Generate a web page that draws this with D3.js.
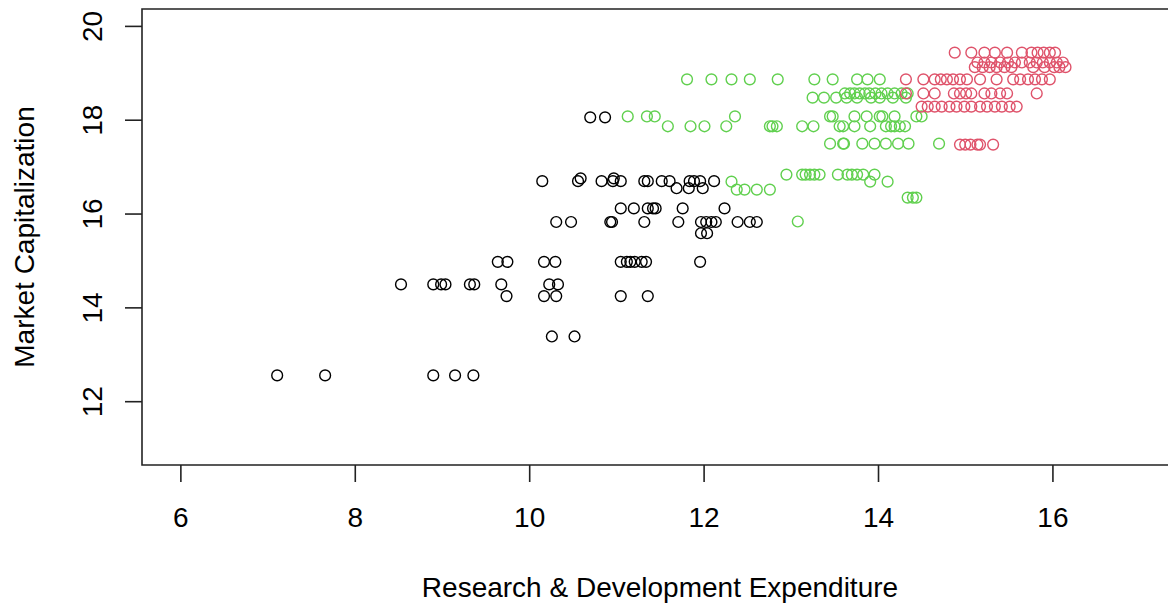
<!DOCTYPE html>
<html>
<head>
<meta charset="utf-8">
<script src="https://cdn.jsdelivr.net/npm/d3@7"></script>
<style>
  body { margin: 0; background: #fff; overflow: hidden; }
  svg { display: block; font-family: "Liberation Sans", Arial, sans-serif; }
</style>
</head>
<body>
<svg id="chart"></svg>
<script>
/* data: market cap levels and the R&D values sitting on each level */

const xTicks = [6, 8, 10, 12, 14, 16];
const yTicks = [12, 14, 16, 18, 20];

// black group
const blackLevels = [12.55, 13.38, 14.24, 14.49, 14.97, 15.58, 15.82, 16.11, 16.54, 16.69, 16.75, 18.05];
const blackRD = [
  [7.11, 7.66, 8.90, 9.15, 9.36],
  [10.26, 10.52],
  [9.74, 10.17, 10.31, 11.05, 11.36],
  [8.53, 8.90, 8.99, 9.04, 9.32, 9.37, 9.68, 10.23, 10.33],
  [9.64, 9.75, 10.17, 10.30, 11.05, 11.12, 11.16, 11.21, 11.29, 11.34, 11.96],
  [11.97, 12.04],
  [10.31, 10.48, 10.93, 10.95, 11.32, 11.71, 11.97, 12.03, 12.09, 12.14, 12.39, 12.53, 12.61],
  [11.05, 11.20, 11.36, 11.42, 11.45, 11.76, 12.24],
  [11.69, 11.83, 11.99],
  [10.15, 10.56, 10.83, 10.96, 11.05, 11.32, 11.36, 11.52, 11.61, 11.84, 11.89, 11.96, 12.12],
  [10.59, 10.97],
  [10.70, 10.87]
];

// green group
const greenLevels = [15.83, 16.34, 16.51, 16.68, 16.83, 17.49, 17.86, 18.07, 18.47, 18.56, 18.86];
const greenRD = [
  [13.08],
  [14.34, 14.40, 14.44],
  [12.38, 12.47, 12.61, 12.76],
  [12.32, 13.91, 14.11],
  [12.95, 13.13, 13.17, 13.22, 13.27, 13.33, 13.54, 13.65, 13.70, 13.76, 13.83, 13.96],
  [13.45, 13.60, 13.61, 13.82, 13.96, 14.09, 14.23, 14.35, 14.70],
  [11.59, 11.85, 12.01, 12.26, 12.76, 12.79, 12.84, 13.13, 13.26, 13.56, 13.60, 13.73, 13.91, 14.09, 14.15, 14.19, 14.25, 14.31],
  [11.13, 11.35, 11.44, 12.36, 13.45, 13.48, 13.73, 13.87, 14.02, 14.05, 14.19, 14.44, 14.50],
  [13.25, 13.38, 13.52, 13.64, 13.76, 13.92, 14.02, 14.17, 14.32],
  [13.62, 13.68, 13.73, 13.79, 13.85, 13.90, 13.97, 14.04, 14.11, 14.19, 14.27, 14.34],
  [11.81, 12.09, 12.32, 12.53, 12.85, 13.27, 13.48, 13.76, 13.88, 14.02]
];

// red group
const redLevels = [17.47, 18.28, 18.56, 18.86, 19.12, 19.22, 19.43];
const redRD = [
  [14.94, 15.00, 15.06, 15.14, 15.17, 15.32],
  [14.50, 14.57, 14.65, 14.73, 14.82, 14.90, 14.99, 15.07, 15.17, 15.25, 15.34, 15.42, 15.51, 15.59],
  [14.32, 14.52, 14.65, 14.87, 14.94, 15.01, 15.07, 15.22, 15.30, 15.40, 15.48, 15.82],
  [14.32, 14.52, 14.65, 14.72, 14.79, 14.86, 14.94, 15.02, 15.17, 15.36, 15.55, 15.63, 15.72, 15.80, 15.88, 15.97],
  [15.11, 15.20, 15.28, 15.36, 15.45, 15.53, 15.78, 15.91, 16.02, 16.08, 16.15],
  [15.14, 15.22, 15.30, 15.40, 15.49, 15.57, 15.65, 15.74, 15.82, 15.89, 15.97, 16.05, 16.12],
  [14.88, 15.07, 15.22, 15.34, 15.48, 15.65, 15.76, 15.83, 15.90, 15.97, 16.03]
];

const groupColors = ["#000000", "#61D04F", "#DF536B"];

/* layout */

const width = 1168, height = 605;
const plot = { left: 142, right: 1178, top: 9, bottom: 465 };

// R style limits: xlim 6..17, ylim 11..20, padded 4% each side
function pad(lo, hi) {
  let d = (hi - lo) * 0.04;
  return [lo - d, hi + d];
}

let x = d3.scaleLinear().domain(pad(6, 17)).range([plot.left, plot.right]);
let y = d3.scaleLinear().domain(pad(11, 20)).range([plot.bottom, plot.top]);

function toPoints(levels, rd, group) {
  let pts = [];
  levels.forEach((lv, i) => {
    rd[i].forEach(v => pts.push({ rd: v, mc: lv, group: group }));
  });
  return pts;
}

let points = []
  .concat(toPoints(blackLevels, blackRD, 0))
  .concat(toPoints(greenLevels, greenRD, 1))
  .concat(toPoints(redLevels, redRD, 2));

let svg = d3.select("#chart")
  .attr("width", width)
  .attr("height", height);

/* points */

svg.append("g")
  .attr("class", "points")
  .selectAll("circle")
  .data(points)
  .enter().append("circle")
  .attr("cx", d => x(d.rd))
  .attr("cy", d => y(d.mc))
  .attr("r", 5.4)
  .attr("fill", "none")
  .attr("stroke", d => groupColors[d.group])
  .attr("stroke-width", 1.4);

/* box (right side runs off the page) + axes */

svg.append("path")
  .attr("d", "M" + (plot.right + 20) + "," + plot.top +
             "H" + plot.left + "V" + plot.bottom + "H" + (plot.right + 20))
  .attr("fill", "none")
  .attr("stroke", "#222")
  .attr("stroke-width", 1.6);

let xAxis = svg.append("g")
  .attr("transform", "translate(0," + plot.bottom + ")")
  .call(d3.axisBottom(x).tickValues(xTicks).tickSize(17).tickPadding(0).tickFormat(d3.format("d")));

xAxis.select(".domain").remove();
xAxis.selectAll("line").attr("stroke", "#222").attr("stroke-width", 1.6);
xAxis.selectAll("text")
  .attr("y", 62)
  .attr("dy", null)
  .attr("fill", "#000")
  .style("font-size", "28px");

let yAxis = svg.append("g")
  .attr("transform", "translate(" + plot.left + ",0)")
  .call(d3.axisLeft(y).tickValues(yTicks).tickSize(17).tickFormat(d3.format("d")));

yAxis.select(".domain").remove();
yAxis.selectAll("line").attr("stroke", "#222").attr("stroke-width", 1.6);
yAxis.selectAll("text")
  .attr("x", null)
  .attr("dy", null)
  .attr("text-anchor", "middle")
  .attr("transform", "translate(-40.5,0) rotate(-90)")
  .attr("fill", "#000")
  .style("font-size", "28px");

// kill d3's default axis font settings
svg.selectAll(".tick text").attr("font-family", null).attr("font-size", null);

/* titles */

svg.append("text")
  .attr("x", (plot.left + plot.right) / 2)
  .attr("y", 597)
  .attr("text-anchor", "middle")
  .style("font-size", "28px")
  .text("Research & Development Expenditure");

svg.append("text")
  .attr("transform", "translate(34," + (plot.top + plot.bottom) / 2 + ") rotate(-90)")
  .attr("text-anchor", "middle")
  .style("font-size", "28px")
  .text("Market Capitalization");
</script>
</body>
</html>
